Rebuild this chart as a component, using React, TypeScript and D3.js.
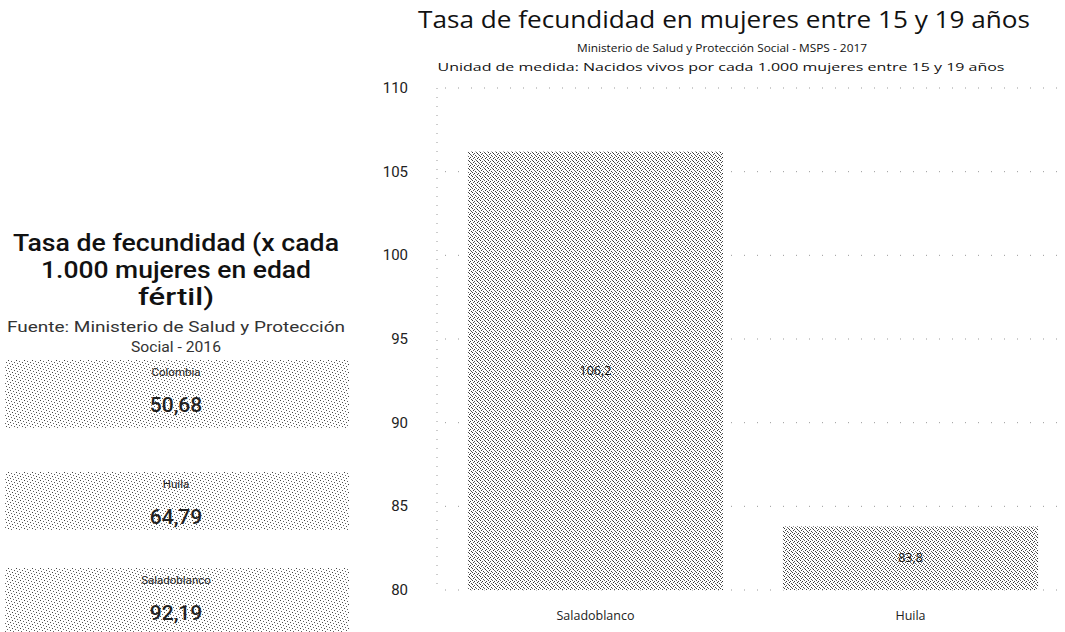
import React from "react";
import * as d3 from "d3";

const categories = ["Saladoblanco", "Huila"];
const values = [106.2, 83.8];
const valueLabels = ["106,2", "83,8"];
const yTicks = [80, 85, 90, 95, 100, 105, 110];

const cardNames = ["Colombia", "Huila", "Saladoblanco"];
const cardValues = ["50,68", "64,79", "92,19"];

const W = 1065;
const H = 632;

export default function App() {
  const y = d3.scaleLinear().domain([80, 110]).range([590, 88]);
  const x = d3.scaleBand().domain(categories).range([438, 1068]).paddingInner(0.19).paddingOuter(0.095);

  const cardTops = [360, 472, 568];
  const cardH = [68, 58, 64];

  return (
    <svg width={W} height={H} style={{ position: "absolute", left: 0, top: 0, background: "#fff" }}>
      <defs>
        <pattern id="dith" width="8" height="8" patternUnits="userSpaceOnUse">
          <rect width="8" height="8" fill="#ffffff" />
          <rect x="0" y="0" width="1" height="1" fill="#333" />
          <rect x="2" y="1" width="1" height="1" fill="#555" />
          <rect x="1" y="2" width="1" height="1" fill="#444" />
          <rect x="4" y="0" width="1" height="1" fill="#555" />
          <rect x="5" y="1" width="1" height="1" fill="#333" />
          <rect x="6" y="2" width="1" height="1" fill="#666" />
          <rect x="3" y="3" width="1" height="1" fill="#444" />
          <rect x="7" y="3" width="1" height="1" fill="#555" />
          <rect x="0" y="4" width="1" height="1" fill="#444" />
          <rect x="2" y="5" width="1" height="1" fill="#333" />
          <rect x="4" y="4" width="1" height="1" fill="#666" />
          <rect x="6" y="5" width="1" height="1" fill="#444" />
          <rect x="1" y="6" width="1" height="1" fill="#555" />
          <rect x="5" y="6" width="1" height="1" fill="#333" />
          <rect x="3" y="7" width="1" height="1" fill="#666" />
          <rect x="7" y="7" width="1" height="1" fill="#444" />
        </pattern>
        <pattern id="dith2" width="8" height="8" patternUnits="userSpaceOnUse">
          <rect width="8" height="8" fill="#ffffff" />
          <rect x="0" y="0" width="1" height="1" fill="#444" />
          <rect x="3" y="1" width="1" height="1" fill="#666" />
          <rect x="6" y="2" width="1" height="1" fill="#555" />
          <rect x="1" y="3" width="1" height="1" fill="#666" />
          <rect x="4" y="4" width="1" height="1" fill="#444" />
          <rect x="7" y="5" width="1" height="1" fill="#666" />
          <rect x="2" y="6" width="1" height="1" fill="#555" />
          <rect x="5" y="7" width="1" height="1" fill="#666" />
        </pattern>
      </defs>

      {/* Left panel */}
      <g fontFamily="Roboto, Arial, sans-serif" textAnchor="middle">
        <text x={176} y={251} fontSize={23} fontWeight={500} fill="#111" textLength={326} lengthAdjust="spacingAndGlyphs">Tasa de fecundidad (x cada</text>
        <text x={176} y={278} fontSize={23} fontWeight={500} fill="#111" textLength={270} lengthAdjust="spacingAndGlyphs">1.000 mujeres en edad</text>
        <text x={176} y={305} fontSize={23} fontWeight={500} fill="#111" textLength={76} lengthAdjust="spacingAndGlyphs">fértil)</text>
        <text x={176} y={332} fontSize={14} fill="#333" textLength={338} lengthAdjust="spacingAndGlyphs">Fuente: Ministerio de Salud y Protección</text>
        <text x={176} y={352} fontSize={14} fill="#333" textLength={90} lengthAdjust="spacingAndGlyphs">Social - 2016</text>
        {cardNames.map((n, i) => (
          <g key={n}>
            <rect x={5} y={cardTops[i]} width={344} height={cardH[i]} fill="url(#dith2)" />
            <text x={176} y={cardTops[i] + 16} fontSize={11.5} fill="#222">{n}</text>
            <text x={176} y={cardTops[i] + 52} fontSize={21} fontWeight={500} fill="#222">{cardValues[i]}</text>
          </g>
        ))}
      </g>

      {/* Right chart titles */}
      <g fontFamily="'Open Sans', 'Segoe UI', sans-serif" textAnchor="middle" fill="#111">
        <text x={724} y={28} fontSize={23} textLength={612} lengthAdjust="spacingAndGlyphs">Tasa de fecundidad en mujeres entre 15 y 19 años</text>
        <text x={722} y={52} fontSize={11} textLength={290} lengthAdjust="spacingAndGlyphs">Ministerio de Salud y Protección Social - MSPS - 2017</text>
        <text x={721} y={71} fontSize={11.5} textLength={567} lengthAdjust="spacingAndGlyphs">Unidad de medida: Nacidos vivos por cada 1.000 mujeres entre 15 y 19 años</text>
      </g>

      {/* Grid */}
      <g>
        {yTicks.map((t) => (
          <line key={t} x1={445} x2={1065} y1={y(t)} y2={y(t)} stroke="#999" strokeWidth={1} strokeDasharray="1,12" />
        ))}
        <line x1={437} x2={437} y1={88} y2={590} stroke="#999" strokeWidth={1} strokeDasharray="1,8" />
      </g>

      {/* Y ticks */}
      <g fontFamily="Roboto, Arial, sans-serif" fontSize={15} fill="#222" textAnchor="end">
        {yTicks.map((t) => (
          <text key={t} x={408} y={y(t) + 5}>{t}</text>
        ))}
      </g>

      {/* Bars */}
      <g>
        {categories.map((c, i) => (
          <g key={c}>
            <rect x={x(c)!} y={y(values[i])} width={x.bandwidth()} height={y(80) - y(values[i])} fill="url(#dith)" />
            <text x={x(c)! + x.bandwidth() / 2} y={(y(values[i]) + y(80)) / 2 + 4} textAnchor="middle" fontFamily="'Open Sans', sans-serif" fontSize={12.5} fill="#111">{valueLabels[i]}</text>
            <text x={x(c)! + x.bandwidth() / 2} y={620} textAnchor="middle" fontFamily="'Open Sans', sans-serif" fontSize={12.5} fill="#222">{c}</text>
          </g>
        ))}
      </g>
    </svg>
  );
}
